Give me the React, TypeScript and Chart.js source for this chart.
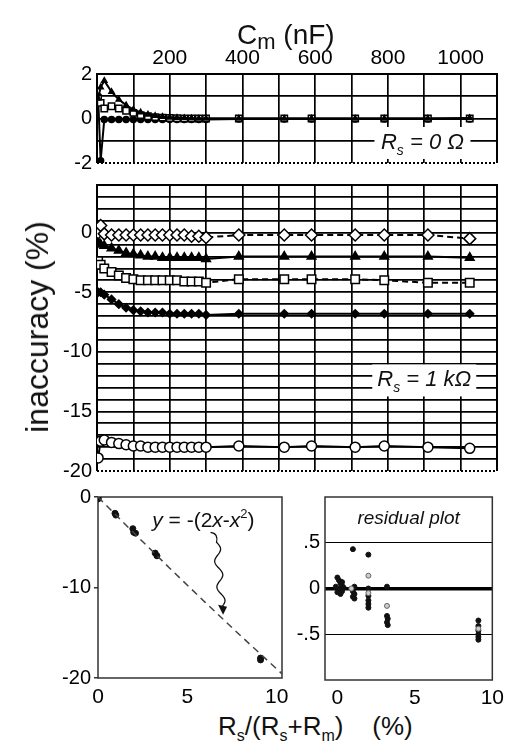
import React, { useEffect, useRef } from "react";
import { Chart, registerables } from "chart.js";

Chart.register(...registerables);

const FONT = "'Liberation Sans', Arial, Helvetica, sans-serif";
Chart.defaults.font.family = FONT;
Chart.defaults.color = "#000";

// ---------- data ----------
// membrane capacitance C_m (nF)
const CM_NF = [3, 10, 20, 40, 60, 80, 100, 120, 140, 160, 180, 200, 220, 240, 260, 280, 300, 390, 515, 590, 710, 790, 910, 1025];
const CM_TICK_LABELS = [200, 400, 600, 800, 1000];

// Rs = 0 Ohm panel
const RS0_TRIANGLES = [0.9, 1.4, 1.7, 1.2, 0.85, 0.6, 0.4, 0.28, 0.18, 0.12, 0.08, 0.05, 0.03, 0.02, 0.01, 0, 0, 0, 0, 0, 0, 0, 0, 0.02];
const RS0_SQUARES = [0.9, 0.7, 0.45, 0.55, 0.45, 0.35, 0.25, 0.15, 0.1, 0.06, 0.04, 0.02, 0.01, 0, 0, 0, 0, 0, 0, 0, 0, 0, 0, 0];
const RS0_CIRCLES = [1.0, -1.9, -0.05, -0.05, -0.05, -0.05, -0.05, -0.05, -0.05, -0.05, -0.05, -0.05, -0.05, -0.05, -0.05, -0.05, -0.05, -0.02, -0.02, -0.02, -0.02, -0.02, -0.02, -0.02];

// Rs = 1 kOhm panel
const RS1K_OPEN_DIAMONDS = [0.0, 0.6, -0.1, -0.2, -0.2, -0.2, -0.2, -0.2, -0.2, -0.2, -0.2, -0.2, -0.2, -0.2, -0.3, -0.3, -0.4, -0.2, -0.2, -0.2, -0.2, -0.2, -0.2, -0.5];
const RS1K_TRIANGLES = [-0.8, -1.0, -1.1, -1.3, -1.5, -1.7, -1.8, -1.9, -2.0, -2.0, -2.1, -2.1, -2.1, -2.1, -2.1, -2.1, -2.2, -2.0, -2.0, -2.0, -2.0, -2.0, -2.0, -2.1];
const RS1K_SQUARES = [-2.4, -2.7, -3.0, -3.3, -3.6, -3.8, -3.9, -4.0, -4.0, -4.0, -4.0, -4.0, -4.0, -4.1, -4.1, -4.1, -4.2, -3.9, -3.9, -3.9, -3.9, -4.0, -4.2, -4.2];
const RS1K_FILLED_DIAMONDS = [-5.0, -5.0, -5.2, -5.6, -6.0, -6.3, -6.5, -6.6, -6.7, -6.7, -6.7, -6.8, -6.8, -6.8, -6.8, -6.8, -6.9, -6.8, -6.8, -6.8, -6.8, -6.8, -6.8, -6.8];
const RS1K_CIRCLES = [-18.9, -17.5, -17.4, -17.6, -17.7, -17.8, -17.9, -17.9, -18.0, -18.0, -18.0, -18.0, -18.0, -18.0, -18.0, -18.0, -18.0, -17.9, -18.0, -17.9, -18.0, -17.9, -18.0, -18.1];

// inaccuracy vs Rs/(Rs+Rm)
const RATIO_PCT = [0, 0.02, 0.95, 1.0, 1.95, 2.0, 2.1, 3.2, 3.3, 9.1, 9.1];
const RATIO_INACC = [0, -0.2, -1.8, -2.0, -3.5, -3.9, -4.0, -6.2, -6.5, -17.8, -18.0];
const THEORY_X = [0, 2, 4, 6, 8, 10.3];
const THEORY_Y = [0, -3.96, -7.84, -11.64, -15.36, -19.54];

// residuals
const RESID_X = [0.0, 0.1, 0.2, 0.3, 0.1, 0.2, 0.0, 0.3, 0.4, 0.2, -0.1, 0.3, 1.0, 1.1, 1.0, 1.1, 1.0, 1.1, 2.0, 2.0, 2.0, 2.0, 2.0, 2.0, 3.2, 3.2, 3.25, 3.2, 3.25, 9.1, 9.1, 9.1, 9.1, 9.1, 9.1];
const RESID_Y = [0.12, 0.09, 0.06, 0.03, 0.0, -0.02, -0.04, 0.07, 0.01, -0.06, 0.02, -0.03, 0.43, 0.02, -0.03, -0.06, -0.09, -0.11, 0.37, 0.0, -0.08, -0.13, -0.17, -0.21, 0.02, -0.3, -0.33, -0.37, -0.4, -0.35, -0.41, -0.46, -0.5, -0.53, -0.56];
const RESID_OPEN_X = [0.9, 2.0, 2.0, 3.2, 9.1];
const RESID_OPEN_Y = [0.0, 0.14, -0.05, -0.19, -0.44];

// annotation anchors (data units of the lower-left plot)
const FORMULA_AT = [5.9, -3.3];
const ARROW_FROM = [6.3, -3.9];
const ARROW_TO = [7.0, -13.0];

// ---------- helpers ----------
const xy = (xs: number[], ys: number[]) => xs.map((x, i) => ({ x, y: ys[i] }));

const edgeColor = (lo: number, hi: number) => (c: any) => {
  const v = c.tick ? c.tick.value : NaN;
  return v === lo || v === hi ? "rgba(0,0,0,0)" : "#000";
};

function series(data: any[], o: any) {
  return {
    data,
    borderColor: "#000",
    borderWidth: o.bw ?? 2,
    borderDash: o.dash ?? [],
    pointStyle: o.style,
    pointRadius: o.r,
    pointBorderWidth: o.pbw ?? 1.5,
    pointBackgroundColor: o.open ? "#fff" : "#000",
    pointBorderColor: "#000",
    fill: false,
    tension: 0,
  };
}

const framePlugin = {
  id: "frame",
  beforeDatasetsDraw(chart: any, _a: any, o: any) {
    const { ctx, chartArea: a } = chart;
    ctx.save();
    ctx.strokeStyle = o.color || "#000";
    ctx.lineWidth = o.width || 2;
    ctx.beginPath();
    ctx.moveTo(a.left, a.bottom);
    ctx.lineTo(a.left, a.top);
    ctx.lineTo(a.right, a.top);
    ctx.lineTo(a.right, a.bottom);
    if (!o.dotted) ctx.closePath();
    ctx.stroke();
    if (o.dotted) {
      ctx.setLineDash([2, 2]);
      ctx.beginPath();
      ctx.moveTo(a.left, a.bottom);
      ctx.lineTo(a.right, a.bottom);
      ctx.stroke();
    }
    ctx.restore();
  },
};

const boxLabelPlugin = {
  id: "boxLabel",
  beforeDatasetsDraw(chart: any, _a: any, o: any) {
    if (!o || !o.rest) return;
    const { ctx } = chart;
    const cx = chart.scales.x.getPixelForValue(o.x);
    const cy = chart.scales.y.getPixelForValue(o.y);
    ctx.save();
    ctx.fillStyle = "#fff";
    ctx.fillRect(cx - o.w / 2, cy - o.h / 2, o.w, o.h);
    const big = `italic 22px ${FONT}`;
    const small = `italic 14px ${FONT}`;
    ctx.font = big;
    const w1 = ctx.measureText("R").width;
    const w3 = ctx.measureText(o.rest).width;
    ctx.font = small;
    const w2 = ctx.measureText("s").width;
    let x = cx - (w1 + w2 + w3) / 2;
    const base = cy + 6;
    ctx.fillStyle = "#111";
    ctx.textAlign = "left";
    ctx.textBaseline = "alphabetic";
    ctx.font = big;
    ctx.fillText("R", x, base);
    x += w1;
    ctx.font = small;
    ctx.fillText("s", x, base + 6);
    x += w2;
    ctx.font = big;
    ctx.fillText(o.rest, x, base);
    ctx.restore();
  },
};

const formulaPlugin = {
  id: "formula",
  afterDatasetsDraw(chart: any, _a: any, o: any) {
    if (!o || !o.at) return;
    const { ctx } = chart;
    const xs = chart.scales.x;
    const ys = chart.scales.y;
    const cx = xs.getPixelForValue(o.at[0]);
    const base = ys.getPixelForValue(o.at[1]);
    const parts: [string, string][] = [["y", "i"], [" = -(2", "n"], ["x", "i"], ["-", "n"], ["x", "i"], ["2", "s"], [")", "n"]];
    const fontOf = (k: string) => (k === "i" ? `italic 21px ${FONT}` : k === "s" ? `13px ${FONT}` : `21px ${FONT}`);
    ctx.save();
    let total = 0;
    const ws = parts.map(([t, k]) => {
      ctx.font = fontOf(k);
      const w = ctx.measureText(t).width;
      total += w;
      return w;
    });
    let x = cx - total / 2;
    ctx.fillStyle = "#111";
    ctx.textAlign = "left";
    ctx.textBaseline = "alphabetic";
    parts.forEach(([t, k], i) => {
      ctx.font = fontOf(k);
      ctx.fillText(t, x, k === "s" ? base - 9 : base);
      x += ws[i];
    });
    // wavy arrow
    const p0 = [xs.getPixelForValue(o.from[0]), ys.getPixelForValue(o.from[1])];
    const p1 = [xs.getPixelForValue(o.to[0]), ys.getPixelForValue(o.to[1])];
    ctx.strokeStyle = "#111";
    ctx.lineWidth = 1.3;
    ctx.beginPath();
    ctx.moveTo(p0[0], p0[1]);
    const hx = p0[0] + 6;
    const hy = p0[1] + 10;
    ctx.quadraticCurveTo(p0[0] + 8, p0[1] + 1, hx, hy);
    const endY = p1[1] - 8;
    const N = 60;
    for (let i = 1; i <= N; i++) {
      const t = i / N;
      const px = hx + (p1[0] - 1 - hx) * t + 3.5 * Math.sin(t * Math.PI * 5);
      const py = hy + (endY - hy) * t;
      ctx.lineTo(px, py);
    }
    ctx.stroke();
    ctx.fillStyle = "#111";
    ctx.beginPath();
    ctx.moveTo(p1[0], p1[1]);
    ctx.lineTo(p1[0] - 5, p1[1] - 10);
    ctx.lineTo(p1[0] + 4, p1[1] - 8);
    ctx.closePath();
    ctx.fill();
    ctx.restore();
  },
};

const innerTitlePlugin = {
  id: "innerTitle",
  afterDatasetsDraw(chart: any, _a: any, o: any) {
    if (!o || !o.text) return;
    const { ctx, chartArea: a } = chart;
    ctx.save();
    ctx.font = `italic 19px ${FONT}`;
    ctx.fillStyle = "#111";
    ctx.textAlign = "center";
    ctx.textBaseline = "alphabetic";
    ctx.fillText(o.text, (a.left + a.right) / 2, a.top + o.dy);
    ctx.restore();
  },
};

const baseOpts = {
  animation: false,
  responsive: false,
  events: [],
};

function topConfig(): any {
  return {
    type: "line",
    data: {
      datasets: [
        series(xy(CM_NF, RS0_TRIANGLES), { style: "triangle", r: 3 }),
        series(xy(CM_NF, RS0_SQUARES), { style: "rect", r: 4.5, open: true }),
        series(xy(CM_NF, RS0_CIRCLES), { style: "circle", r: 3 }),
      ],
    },
    options: {
      ...baseOpts,
      layout: { padding: { left: 0, top: 0, right: 13, bottom: 15 }, autoPadding: false },
      plugins: {
        legend: { display: false },
        tooltip: { enabled: false },
        frame: { dotted: true, width: 2 },
        boxLabel: { x: 895, y: -1.1, w: 96, h: 32, rest: " = 0 Ω" },
      },
      scales: {
        x: {
          type: "linear",
          position: "top",
          min: 0,
          max: 1100,
          afterFit: (s: any) => { s.height = 74; },
          border: { display: false },
          grid: { color: edgeColor(0, 1100), lineWidth: 1.7, drawTicks: false },
          ticks: {
            stepSize: 100, autoSkip: false, maxRotation: 0, padding: 3, color: "#000",
            font: { family: FONT, size: 21 },
            callback: (v: number) => (CM_TICK_LABELS.includes(v) ? String(v) : ""),
          },
        },
        y: {
          type: "linear",
          min: -2,
          max: 2,
          afterFit: (s: any) => { s.width = 97; },
          border: { display: false },
          grid: { color: edgeColor(-2, 2), lineWidth: 1.7, drawTicks: false },
          ticks: {
            stepSize: 1, autoSkip: false, padding: 5, color: "#000",
            font: { family: FONT, size: 20 },
            callback: (v: number) => (v % 2 === 0 ? String(v) : ""),
          },
        },
      },
    },
    plugins: [framePlugin, boxLabelPlugin],
  };
}

function midConfig(): any {
  return {
    type: "line",
    data: {
      datasets: [
        series(xy(CM_NF, RS1K_OPEN_DIAMONDS), { style: "rectRot", r: 6, open: true, dash: [6, 4] }),
        series(xy(CM_NF, RS1K_TRIANGLES), { style: "triangle", r: 5 }),
        series(xy(CM_NF, RS1K_SQUARES), { style: "rect", r: 6, open: true, dash: [6, 4] }),
        series(xy(CM_NF, RS1K_FILLED_DIAMONDS), { style: "rectRot", r: 4 }),
        series(xy(CM_NF, RS1K_CIRCLES), { style: "circle", r: 5, open: true }),
      ],
    },
    options: {
      ...baseOpts,
      layout: { padding: { left: 0, top: 10, right: 13, bottom: 13 }, autoPadding: false },
      plugins: {
        legend: { display: false },
        tooltip: { enabled: false },
        frame: { dotted: true, width: 2 },
        boxLabel: { x: 900, y: -12.4, w: 104, h: 32, rest: " = 1 kΩ" },
      },
      scales: {
        x: {
          type: "linear",
          position: "bottom",
          min: 0,
          max: 1100,
          afterFit: (s: any) => { s.height = 0; },
          border: { display: false },
          grid: { color: edgeColor(0, 1100), lineWidth: 1.7, drawTicks: false },
          ticks: { stepSize: 100, autoSkip: false, display: false },
        },
        y: {
          type: "linear",
          min: -20,
          max: 4,
          afterFit: (s: any) => { s.width = 97; },
          border: { display: false },
          grid: { color: edgeColor(-20, 4), lineWidth: 1.7, drawTicks: false },
          ticks: {
            stepSize: 1, autoSkip: false, padding: 5, color: "#000",
            font: { family: FONT, size: 20 },
            callback: (v: number) => (v % 5 === 0 ? String(v) : ""),
          },
        },
      },
    },
    plugins: [framePlugin, boxLabelPlugin],
  };
}

function ratioConfig(): any {
  return {
    type: "line",
    data: {
      datasets: [
        { data: xy(THEORY_X, THEORY_Y), borderColor: "#444", borderWidth: 1.5, borderDash: [7, 5], pointRadius: 0, fill: false, tension: 0 },
        { data: xy(RATIO_PCT, RATIO_INACC), showLine: false, pointRadius: 3, pointStyle: "circle", pointBackgroundColor: "#111", pointBorderColor: "#111", borderColor: "#111" },
      ],
    },
    options: {
      ...baseOpts,
      layout: { padding: { left: 0, top: 17, right: 18, bottom: 0 }, autoPadding: false },
      plugins: {
        legend: { display: false },
        tooltip: { enabled: false },
        frame: { width: 1.5, color: "#333" },
        formula: { at: FORMULA_AT, from: ARROW_FROM, to: ARROW_TO },
      },
      scales: {
        x: {
          type: "linear",
          min: 0,
          max: 10.3,
          afterFit: (s: any) => { s.height = 32; },
          border: { display: false },
          grid: { display: false, drawTicks: false },
          ticks: { stepSize: 5, includeBounds: false, autoSkip: false, maxRotation: 0, padding: 7, color: "#000", font: { family: FONT, size: 21 } },
        },
        y: {
          type: "linear",
          min: -20,
          max: 0,
          afterFit: (s: any) => { s.width = 98; },
          border: { display: false },
          grid: { drawOnChartArea: false, drawTicks: true, tickLength: 4, color: "#333", lineWidth: 1.5 },
          ticks: { stepSize: 10, autoSkip: false, padding: 3, color: "#000", font: { family: FONT, size: 20 } },
        },
      },
    },
    plugins: [framePlugin, formulaPlugin],
  };
}

function residConfig(): any {
  return {
    type: "line",
    data: {
      datasets: [
        { data: xy(RESID_OPEN_X, RESID_OPEN_Y), showLine: false, pointRadius: 2.5, pointStyle: "circle", pointBackgroundColor: "#ccc", pointBorderColor: "#666", pointBorderWidth: 1, borderColor: "#666" },
        { data: xy(RESID_X, RESID_Y), showLine: false, pointRadius: 2.5, pointStyle: "circle", pointBackgroundColor: "#111", pointBorderColor: "#111", borderColor: "#111" },
      ],
    },
    options: {
      ...baseOpts,
      layout: { padding: { left: 0, top: 17, right: 17, bottom: 0 }, autoPadding: false },
      plugins: {
        legend: { display: false },
        tooltip: { enabled: false },
        frame: { width: 1.5, color: "#333" },
        innerTitle: { text: "residual plot", dy: 27 },
      },
      scales: {
        x: {
          type: "linear",
          min: -0.8,
          max: 10,
          afterFit: (s: any) => { s.height = 30; },
          border: { display: false },
          grid: { display: false, drawTicks: false },
          ticks: { stepSize: 5, includeBounds: false, autoSkip: false, maxRotation: 0, padding: 6, color: "#000", font: { family: FONT, size: 21 } },
        },
        y: {
          type: "linear",
          min: -1,
          max: 1,
          afterFit: (s: any) => { s.width = 40; },
          border: { display: false },
          grid: {
            drawTicks: false,
            color: "#000",
            lineWidth: (c: any) => {
              const v = c.tick ? c.tick.value : NaN;
              return v === 0 ? 3.5 : Math.abs(v) === 0.5 ? 1 : 0;
            },
          },
          ticks: {
            stepSize: 0.5, autoSkip: false, padding: 5, color: "#000",
            font: { family: FONT, size: 20 },
            callback: (v: number) => (v === 0.5 ? ".5" : v === -0.5 ? "-.5" : v === 0 ? "0" : ""),
          },
        },
      },
    },
    plugins: [framePlugin, innerTitlePlugin],
  };
}

const abs = (left: number, top: number, w: number, h: number): React.CSSProperties => ({
  position: "absolute", left, top, width: w, height: h,
});

export default function App() {
  const topRef = useRef<HTMLCanvasElement>(null);
  const midRef = useRef<HTMLCanvasElement>(null);
  const ratioRef = useRef<HTMLCanvasElement>(null);
  const residRef = useRef<HTMLCanvasElement>(null);

  useEffect(() => {
    const charts = [
      new Chart(topRef.current as HTMLCanvasElement, topConfig()),
      new Chart(midRef.current as HTMLCanvasElement, midConfig()),
      new Chart(ratioRef.current as HTMLCanvasElement, ratioConfig()),
      new Chart(residRef.current as HTMLCanvasElement, residConfig()),
    ];
    return () => charts.forEach((c) => c.destroy());
  }, []);

  const sub = (t: string, size: number, dy: number) => (
    <span style={{ fontSize: size, position: "relative", top: dy }}>{t}</span>
  );

  return (
    <div style={{ position: "fixed", left: 0, top: 0, width: 510, height: 747, background: "#fff", overflow: "hidden", fontFamily: FONT, color: "#111" }}>
      <canvas ref={topRef} width={510} height={180} style={abs(0, 0, 510, 180)} />
      <canvas ref={midRef} width={510} height={320} style={abs(0, 168, 510, 320)} />
      <canvas ref={ratioRef} width={300} height={230} style={abs(0, 480, 300, 230)} />
      <canvas ref={residRef} width={225} height={230} style={abs(285, 480, 225, 230)} />

      <div style={{ position: "absolute", left: 237, top: 21, fontSize: 28, lineHeight: "28px", whiteSpace: "nowrap" }}>
        C{sub("m", 22, 5)} (nF)
      </div>

      <div style={{ position: "absolute", left: 37, top: 327, transform: "translate(-50%, -50%) rotate(-90deg)", fontSize: 32, lineHeight: "32px", whiteSpace: "nowrap" }}>
        inaccuracy (%)
      </div>

      <div style={{ position: "absolute", left: 218, top: 713, fontSize: 26, lineHeight: "26px", whiteSpace: "pre" }}>
        R{sub("s", 16, 6)}/(R{sub("s", 16, 6)}+R{sub("m", 16, 6)}){"    "}(%)
      </div>
    </div>
  );
}
